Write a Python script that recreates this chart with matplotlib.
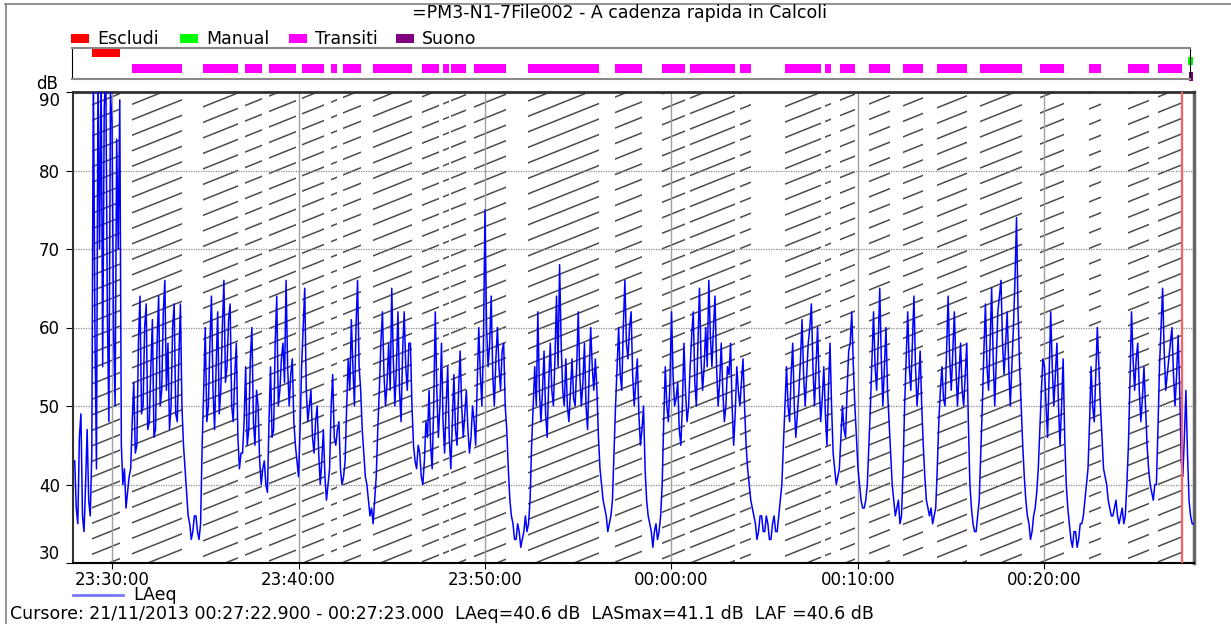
#!/usr/bin/env python3
"""
Andamento LAeq con fasce di transito (PM3-N1-7, file 002).
"""

import datetime as dt

import matplotlib
matplotlib.use("Agg")
import matplotlib.pyplot as plt
import matplotlib.dates as mdates
from matplotlib.collections import LineCollection
from matplotlib.lines import Line2D
from matplotlib.patches import Rectangle

TITLE = "=PM3-N1-7File002 - A cadenza rapida in Calcoli"
CURSOR_TEXT = ("Cursore: 21/11/2013 00:27:22.900 - 00:27:23.000  "
               "LAeq=40.6 dB  LASmax=41.1 dB  LAF =40.6 dB")

# LAeq [dB], un valore ogni 5 s a partire dalle 23:28:00 (una riga = 1 minuto)
laeq_start = "23:28:00"
laeq_step_s = 5
laeq = [
    43, 37, 35, 46, 49, 36, 34, 40, 47, 38, 36, 44,   # 23:28
    93, 60, 42, 93, 70, 93, 55, 88, 93, 62, 48, 90,   # 23:29
    86, 60, 50, 84, 70, 89, 45, 40, 42, 37, 39, 41,   # 23:30
    42, 48, 53, 44, 45, 58, 64, 49, 50, 60, 63, 47,
    48, 55, 61, 46, 47, 58, 64, 50, 52, 62, 66, 52,
    58, 47, 50, 60, 63, 49, 48, 56, 63, 50, 45, 42,
    39, 36, 35, 33, 34, 36, 36, 34, 33, 35, 45, 52,
    60, 48, 50, 58, 64, 52, 47, 55, 62, 49, 52, 60,   # 23:35
    66, 53, 55, 61, 63, 50, 48, 54, 58, 46, 42, 44,
    44, 48, 55, 45, 47, 56, 60, 48, 45, 52, 50, 43,
    40, 42, 43, 40, 39, 48, 55, 46, 47, 58, 64, 50,
    52, 56, 58, 53, 66, 55, 50, 54, 56, 48, 45, 43,
    41, 47, 55, 60, 65, 52, 48, 50, 52, 46, 44, 48,   # 23:40
    50, 44, 40, 43, 47, 41, 38, 40, 42, 50, 54, 46,
    45, 47, 48, 42, 40, 41, 43, 50, 56, 52, 61, 55,
    50, 60, 66, 55, 52, 47, 44, 41, 40, 38, 36, 37,
    35, 38, 41, 47, 52, 58, 62, 54, 50, 53, 58, 52,
    65, 56, 50, 55, 62, 52, 48, 57, 62, 55, 52, 58,   # 23:45
    58, 50, 45, 43, 42, 45, 44, 41, 40, 43, 48, 46,
    52, 45, 42, 50, 62, 52, 46, 50, 58, 48, 44, 50,
    55, 46, 42, 48, 54, 47, 45, 52, 57, 50, 46, 49,
    52, 47, 44, 46, 50, 48, 45, 53, 60, 54, 50, 58,
    75, 60, 55, 58, 64, 54, 50, 56, 60, 55, 52, 57,   # 23:50
    58, 50, 47, 42, 38, 36, 35, 33, 33, 35, 34, 32,
    33, 34, 36, 34, 35, 38, 45, 50, 55, 50, 62, 52,
    48, 52, 57, 49, 46, 53, 58, 52, 50, 56, 64, 55,
    68, 58, 52, 50, 56, 50, 48, 52, 56, 51, 50, 55,
    62, 54, 50, 53, 58, 50, 47, 54, 60, 55, 52, 56,   # 23:55
    52, 46, 42, 40, 38, 37, 36, 34, 35, 36, 38, 44,
    50, 55, 60, 54, 52, 60, 66, 58, 56, 60, 62, 54,
    50, 53, 56, 49, 45, 47, 50, 42, 38, 36, 35, 34,
    32, 34, 35, 33, 34, 36, 40, 48, 55, 50, 48, 53,
    62, 54, 50, 51, 53, 47, 45, 50, 58, 52, 48, 50,   # 00:00
    55, 59, 62, 53, 50, 58, 65, 56, 52, 55, 60, 55,
    66, 59, 55, 60, 64, 55, 50, 53, 58, 52, 48, 50,
    55, 54, 58, 50, 45, 49, 55, 52, 50, 53, 56, 50,
    45, 42, 40, 38, 37, 36, 35, 33, 34, 36, 36, 34,
    34, 36, 35, 33, 33, 35, 36, 34, 34, 36, 38, 40,   # 00:05
    45, 50, 55, 50, 48, 54, 58, 50, 46, 49, 52, 56,
    61, 54, 50, 54, 58, 60, 63, 55, 50, 55, 60, 53,
    48, 51, 55, 49, 45, 52, 58, 50, 44, 42, 40, 41,
    42, 46, 50, 47, 46, 52, 57, 58, 62, 55, 50, 46,
    42, 40, 38, 37, 37, 38, 40, 45, 50, 56, 62, 55,   # 00:10
    52, 58, 65, 56, 50, 55, 60, 52, 48, 44, 40, 38,
    36, 37, 38, 35, 36, 42, 50, 56, 62, 55, 52, 58,
    64, 55, 50, 53, 57, 50, 45, 41, 38, 37, 36, 37,
    35, 36, 37, 42, 48, 52, 55, 51, 50, 57, 64, 56,
    52, 57, 62, 55, 50, 54, 58, 52, 50, 54, 58, 48,   # 00:15
    40, 37, 35, 34, 34, 36, 38, 44, 50, 57, 63, 55,
    52, 58, 65, 56, 50, 56, 62, 64, 66, 58, 54, 58,
    62, 55, 50, 55, 60, 66, 74, 62, 55, 50, 45, 41,
    38, 36, 35, 33, 34, 36, 37, 39, 42, 47, 52, 56,
    55, 50, 46, 54, 62, 55, 50, 54, 58, 50, 45, 50,   # 00:20
    56, 46, 40, 37, 35, 33, 32, 34, 34, 32, 33, 35,
    35, 36, 38, 40, 42, 48, 55, 50, 48, 54, 60, 55,
    50, 46, 42, 41, 40, 38, 37, 36, 36, 37, 38, 36,
    35, 36, 37, 35, 36, 40, 45, 53, 62, 56, 52, 56,
    58, 52, 48, 51, 55, 50, 45, 42, 40, 39, 38, 40,   # 00:25
    40, 47, 55, 60, 65, 57, 52, 54, 56, 58, 60, 54,
    50, 54, 59, 52, 43, 41, 46, 52, 44, 38, 36, 35,
    35,                                               # 00:28
]

# marcatori (inizio, fine)
escludi = [("23:28:56", "23:30:26")]
manual = [("00:27:42", "00:27:58")]
transiti = [
    ("23:31:04", "23:33:45"), ("23:34:53", "23:36:46"), ("23:37:08", "23:38:03"),
    ("23:38:25", "23:39:52"), ("23:40:11", "23:41:22"), ("23:41:45", "23:42:04"),
    ("23:42:23", "23:43:21"), ("23:43:59", "23:46:05"), ("23:46:38", "23:47:32"),
    ("23:47:45", "23:48:04"), ("23:48:11", "23:48:59"), ("23:49:25", "23:51:08"),
    ("23:52:18", "23:56:07"), ("23:56:58", "23:58:25"), ("23:59:29", "00:00:43"),
    ("00:00:59", "00:03:24"), ("00:03:40", "00:04:16"), ("00:06:05", "00:08:00"),
    ("00:08:14", "00:08:33"), ("00:09:02", "00:09:50"), ("00:10:35", "00:11:43"),
    ("00:12:25", "00:13:29"), ("00:14:14", "00:15:50"), ("00:16:32", "00:18:47"),
    ("00:19:46", "00:21:03"), ("00:22:23", "00:23:02"), ("00:24:29", "00:25:36"),
    ("00:26:05", "00:27:23"),
]
suono = [("00:27:45", "00:27:58")]
cursor_time = "00:27:23"

x_ticks = ["23:30:00", "23:40:00", "23:50:00", "00:00:00", "00:10:00", "00:20:00"]
y_ticks = [30, 40, 50, 60, 70, 80, 90]

FONT = 12.5
TICK_FONT = 12
W, H = 1231, 624


def to_num(hms):
    """'HH:MM:SS' -> numero data matplotlib (la sera del 20/11, dopo mezzanotte il 21/11)"""
    h, m, s = hms.split(":")
    day = 20 if int(h) >= 12 else 21
    t = dt.datetime(2013, 11, day, int(h), int(m)) + dt.timedelta(seconds=float(s))
    return mdates.date2num(t)


def fx(x):
    return x / W


def fy(y):
    return 1 - y / H


def add_hatch(ax, spans, w_px, h_px, slope=0.4, gap=15.5):
    """Tratteggio obliquo sulle fasce, stesso passo per tutte"""
    segs = []
    y0 = -slope * w_px
    while y0 < h_px:
        segs.append([(0, y0 / h_px), (1, (y0 + slope * w_px) / h_px)])
        y0 += gap
    ylo, yhi = ax.get_ylim()
    for a, b in spans:
        x0, x1 = to_num(a), to_num(b)
        clip = Rectangle((x0, ylo), x1 - x0, yhi - ylo, transform=ax.transData)
        lc = LineCollection(segs, colors="#4c4c4c", linewidths=1.1,
                            transform=ax.transAxes, zorder=1)
        ax.add_collection(lc, autolim=False)
        lc.set_clip_path(clip)


def main():
    plt.rcParams["font.family"] = "DejaVu Sans"
    fig = plt.figure(figsize=(W / 100, H / 100), dpi=100)

    # cornice esterna
    fig.add_artist(Line2D([fx(5), 1], [fy(3.5), fy(3.5)], color="#808080", lw=1.2))
    fig.add_artist(Line2D([fx(5.5), fx(5.5)], [fy(3.5), 0], color="#808080", lw=1.2))

    fig.text(fx(619), fy(13), TITLE, ha="center", va="center", fontsize=FONT)

    # legenda marcatori
    legend = [("Escludi", "#ff0000", 71), ("Manual", "#00ff00", 180),
              ("Transiti", "#ff00ff", 289), ("Suono", "#800080", 396)]
    for name, color, x in legend:
        fig.add_artist(Rectangle((fx(x), fy(43)), 18 / W, 9 / H,
                                 transform=fig.transFigure, color=color, lw=0))
        fig.text(fx(x + 26), fy(39), name, ha="left", va="center", fontsize=FONT)

    # striscia marcatori
    bx = fig.add_axes([fx(72), fy(79), (1190 - 72) / W, 31 / H])
    bx.set_xlim(to_num("23:27:51"), to_num("00:27:48"))
    bx.set_ylim(0, 31)
    rows = [(escludi, "#ff0000", (22.3, 8)), (manual, "#00ff00", (14, 8)),
            (transiti, "#ff00ff", (6, 9)), (suono, "#800080", (-2, 9))]
    for spans, color, yr in rows:
        bx.broken_barh([(to_num(a), to_num(b) - to_num(a)) for a, b in spans], yr,
                       facecolors=color, clip_on=False)
    bx.set_xticks([])
    bx.set_yticks([])
    for side in ("top", "bottom"):
        bx.spines[side].set_color("#888888")
        bx.spines[side].set_linewidth(1.5)
    bx.spines["left"].set_color("#000000")
    bx.spines["right"].set_color("#000000")

    # grafico principale
    ax_w, ax_h = 1194 - 73, 563 - 92
    ax = fig.add_axes([fx(73), fy(563), ax_w / W, ax_h / H])
    t0 = to_num(laeq_start)
    times = [t0 + i * laeq_step_s / 86400 for i in range(len(laeq))]
    ax.set_xlim(to_num("23:27:54.5"), to_num("00:28:01"))
    ax.set_ylim(30, 90)

    add_hatch(ax, escludi + transiti, ax_w, ax_h)

    for t in x_ticks:
        ax.axvline(to_num(t), color="#a0a0a0", lw=1.0, zorder=1.5)
    for v in y_ticks[1:-1]:
        ax.axhline(v, color="#8a8a8a", lw=0.9, ls=(0, (1, 1)), zorder=1.5)

    ax.plot(times, laeq, color="#0000ff", lw=1.1, zorder=3)
    ax.axvline(to_num(cursor_time), color="#ff6060", lw=1.6, zorder=4)

    ax.set_xticks([to_num(t) for t in x_ticks], labels=x_ticks)
    ax.set_yticks(y_ticks, labels=[str(v) for v in y_ticks])
    ax.tick_params(axis="x", length=4, pad=2, labelsize=TICK_FONT)
    ax.tick_params(axis="y", length=5.3, pad=4, labelsize=TICK_FONT)
    ytk = ax.yaxis.get_major_ticks()
    ytk[0].label1.set_va("bottom")
    ytk[-1].label1.set_va("top")

    ax.spines["top"].set_color("#303030")
    ax.spines["top"].set_linewidth(2)
    ax.spines["right"].set_color("#666666")
    ax.spines["right"].set_linewidth(2.5)
    ax.spines["left"].set_color("#333333")
    ax.spines["left"].set_linewidth(1.5)
    ax.spines["bottom"].set_color("#000000")
    ax.spines["bottom"].set_linewidth(1.5)

    fig.text(fx(47), fy(84), "dB", ha="center", va="center", fontsize=TICK_FONT)

    # legenda serie e riga cursore
    fig.add_artist(Line2D([fx(73), fx(123)], [fy(595), fy(595)], color="#7878ff", lw=2))
    fig.text(fx(133), fy(595), "LAeq", ha="left", va="center", fontsize=FONT)
    fig.text(fx(10), fy(614), CURSOR_TEXT, ha="left", va="center", fontsize=FONT)

    fig.savefig("out.png", dpi=100)


if __name__ == "__main__":
    main()
